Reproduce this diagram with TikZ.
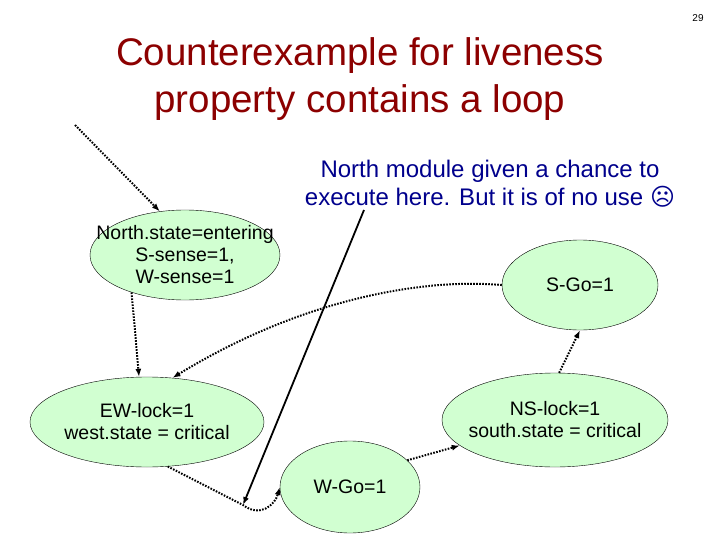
\documentclass[tikz,border=0pt]{standalone}
\usepackage{fontspec}
\setmainfont{Liberation Sans}
\newfontfamily\symfont{DejaVu Sans}
\usetikzlibrary{shapes.geometric,arrows.meta}
\begin{document}
\begin{tikzpicture}[x=1pt,y=-1pt,
  st/.style={ellipse,draw=black,thin,fill=green!18!white,inner sep=0pt},
  lb/.style={align=center,font=\fontsize{19.5}{22}\selectfont},
  dot/.style={line width=2pt,dash pattern=on 1.6pt off 1.4pt,-{Latex[length=8pt,width=6pt]}},
  solidarr/.style={line width=1.8pt,-{Latex[length=8pt,width=6pt]}}]
\useasboundingbox (0,0) rectangle (720,540);
\node[font=\fontsize{10}{11}\selectfont] (pg) at (698,18) {29};
\node[text=red!55!black,align=center,font=\fontsize{38.5}{47}\selectfont] (title) at (360,79) {Counterexample for liveness\\property contains a loop};
\node[text=blue!55!black,align=center,font=\fontsize{24}{28}\selectfont] (note) at (490,184) {North module given a chance to\\execute here. But it is of no use {\symfont ☹}};
\node[st,minimum width=190,minimum height=90,label={[lb]center:North.state=entering\\S-sense=1,\\W-sense=1}] (n) at (185,255) {};
\node[st,minimum width=156,minimum height=90,label={[lb]center:S-Go=1}] (s) at (580,285) {};
\node[st,minimum width=234,minimum height=90,label={[lb]center:EW-lock=1\\west.state = critical}] (ew) at (147,422) {};
\node[st,minimum width=226,minimum height=94,label={[lb]center:NS-lock=1\\south.state = critical}] (ns) at (555,420) {};
\node[st,minimum width=140,minimum height=92,label={[lb]center:W-Go=1}] (w) at (350,487) {};
\coordinate (in) at (75,125);
\coordinate (top) at (364,210);
\coordinate (mid) at (243,505);
\draw[dot] (in) -- (n.120);
\draw[dot] (n.215) -- (ew.100);
\draw[dot] (s.west) .. controls (420,278) and (300,300) .. (ew.60);
\draw[dot] (ew.295) -- (mid) .. controls (260,518) and (275,505) .. (w.west);
\draw[dot] (w.25) -- (ns.195);
\draw[dot] (ns.85) -- (s.south);
\draw[solidarr] (top) -- (mid);
\end{tikzpicture}
\end{document}
